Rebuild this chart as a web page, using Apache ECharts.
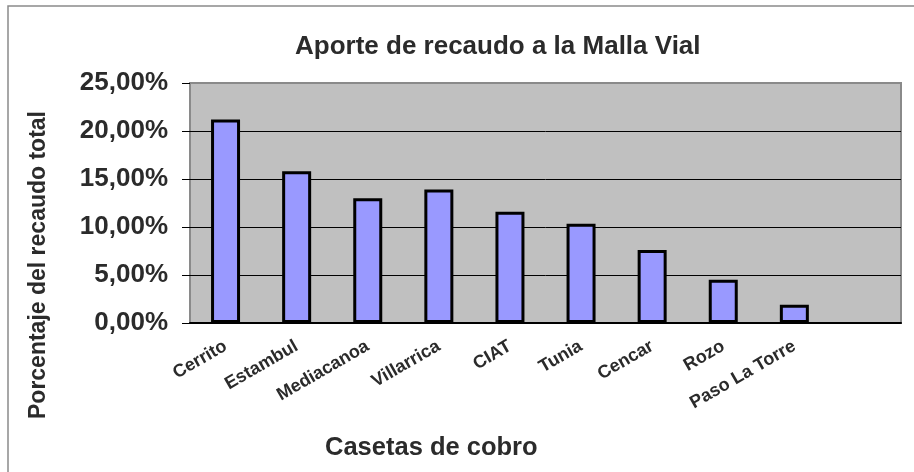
<!DOCTYPE html>
<html>
<head>
<meta charset="utf-8">
<script src="https://cdn.jsdelivr.net/npm/echarts@6/dist/echarts.min.js"></script>
<style>
  html, body { margin: 0; padding: 0; background: #fff; }
  #chart { width: 914px; height: 472px; }
</style>
</head>
<body>
<div id="chart"></div>
<script>
// casetas de cobro y porcentaje del recaudo total
var casetas = ['Cerrito', 'Estambul', 'Mediacanoa', 'Villarrica', 'CIAT', 'Tunia', 'Cencar', 'Rozo', 'Paso La Torre', ''];
var aporte = [21.2, 15.8, 13.0, 13.9, 11.6, 10.35, 7.6, 4.5, 1.9, null];
var titulo = 'Aporte de recaudo a la Malla Vial';
var nombreX = 'Casetas de cobro';
var nombreY = 'Porcentaje del recaudo total';

var chart = echarts.init(document.getElementById('chart'));

function fmtPct(v) {
  return v.toFixed(2).replace('.', ',') + '%';
}

var font = 'Liberation Sans, Arial, sans-serif';

var option = {
  animation: false,
  title: {
    text: titulo,
    left: 290,
    top: 29,
    textStyle: { fontFamily: font, fontSize: 26, fontWeight: 'bold', color: '#2b2b2b' }
  },
  graphic: [
    {
      type: 'rect',
      shape: { x: 8, y: 6, width: 930, height: 500 },
      style: { fill: 'none', stroke: '#8a8a8a', lineWidth: 1.5 },
      silent: true
    },
    {
      type: 'text',
      left: 325,
      top: 435,
      style: { text: nombreX, fontFamily: font, fontSize: 25.5, fontWeight: 'bold', fill: '#2b2b2b' }
    },
    {
      type: 'text',
      x: 39,
      y: 265,
      rotation: Math.PI / 2,
      style: {
        text: nombreY, fontFamily: font, fontSize: 23, fontWeight: 'bold', fill: '#2b2b2b',
        align: 'center', verticalAlign: 'middle'
      }
    }
  ],
  grid: {
    left: 190,
    right: 13,
    top: 83,
    bottom: 149,
    show: true,
    backgroundColor: '#c0c0c0',
    borderColor: '#8a8a8a',
    borderWidth: 2
  },
  xAxis: {
    type: 'category',
    data: casetas,
    axisLine: { lineStyle: { color: '#000', width: 2 } },
    axisTick: { length: 5, lineStyle: { color: '#333', width: 1.5 } },
    axisLabel: {
      rotate: 30,
      interval: 0,
      margin: 22,
      fontFamily: font,
      fontSize: 18,
      fontWeight: 'bold',
      color: '#2b2b2b'
    }
  },
  yAxis: {
    type: 'value',
    min: 0,
    max: 25,
    interval: 5,
    axisLine: { show: false },
    axisTick: { show: true, length: 8, lineStyle: { color: '#000' } },
    splitLine: { lineStyle: { color: ['#000', '#000', '#000', '#000', '#000', '#8a8a8a'], width: 1 } },
    axisLabel: {
      margin: 22,
      fontFamily: font,
      fontSize: 26,
      fontWeight: 'bold',
      color: '#2b2b2b',
      formatter: fmtPct
    }
  },
  series: [{
    type: 'bar',
    data: aporte,
    barWidth: 29,
    itemStyle: { color: '#9999ff', borderColor: '#000', borderWidth: 3 }
  }]
};

chart.setOption(option);
</script>
</body>
</html>
